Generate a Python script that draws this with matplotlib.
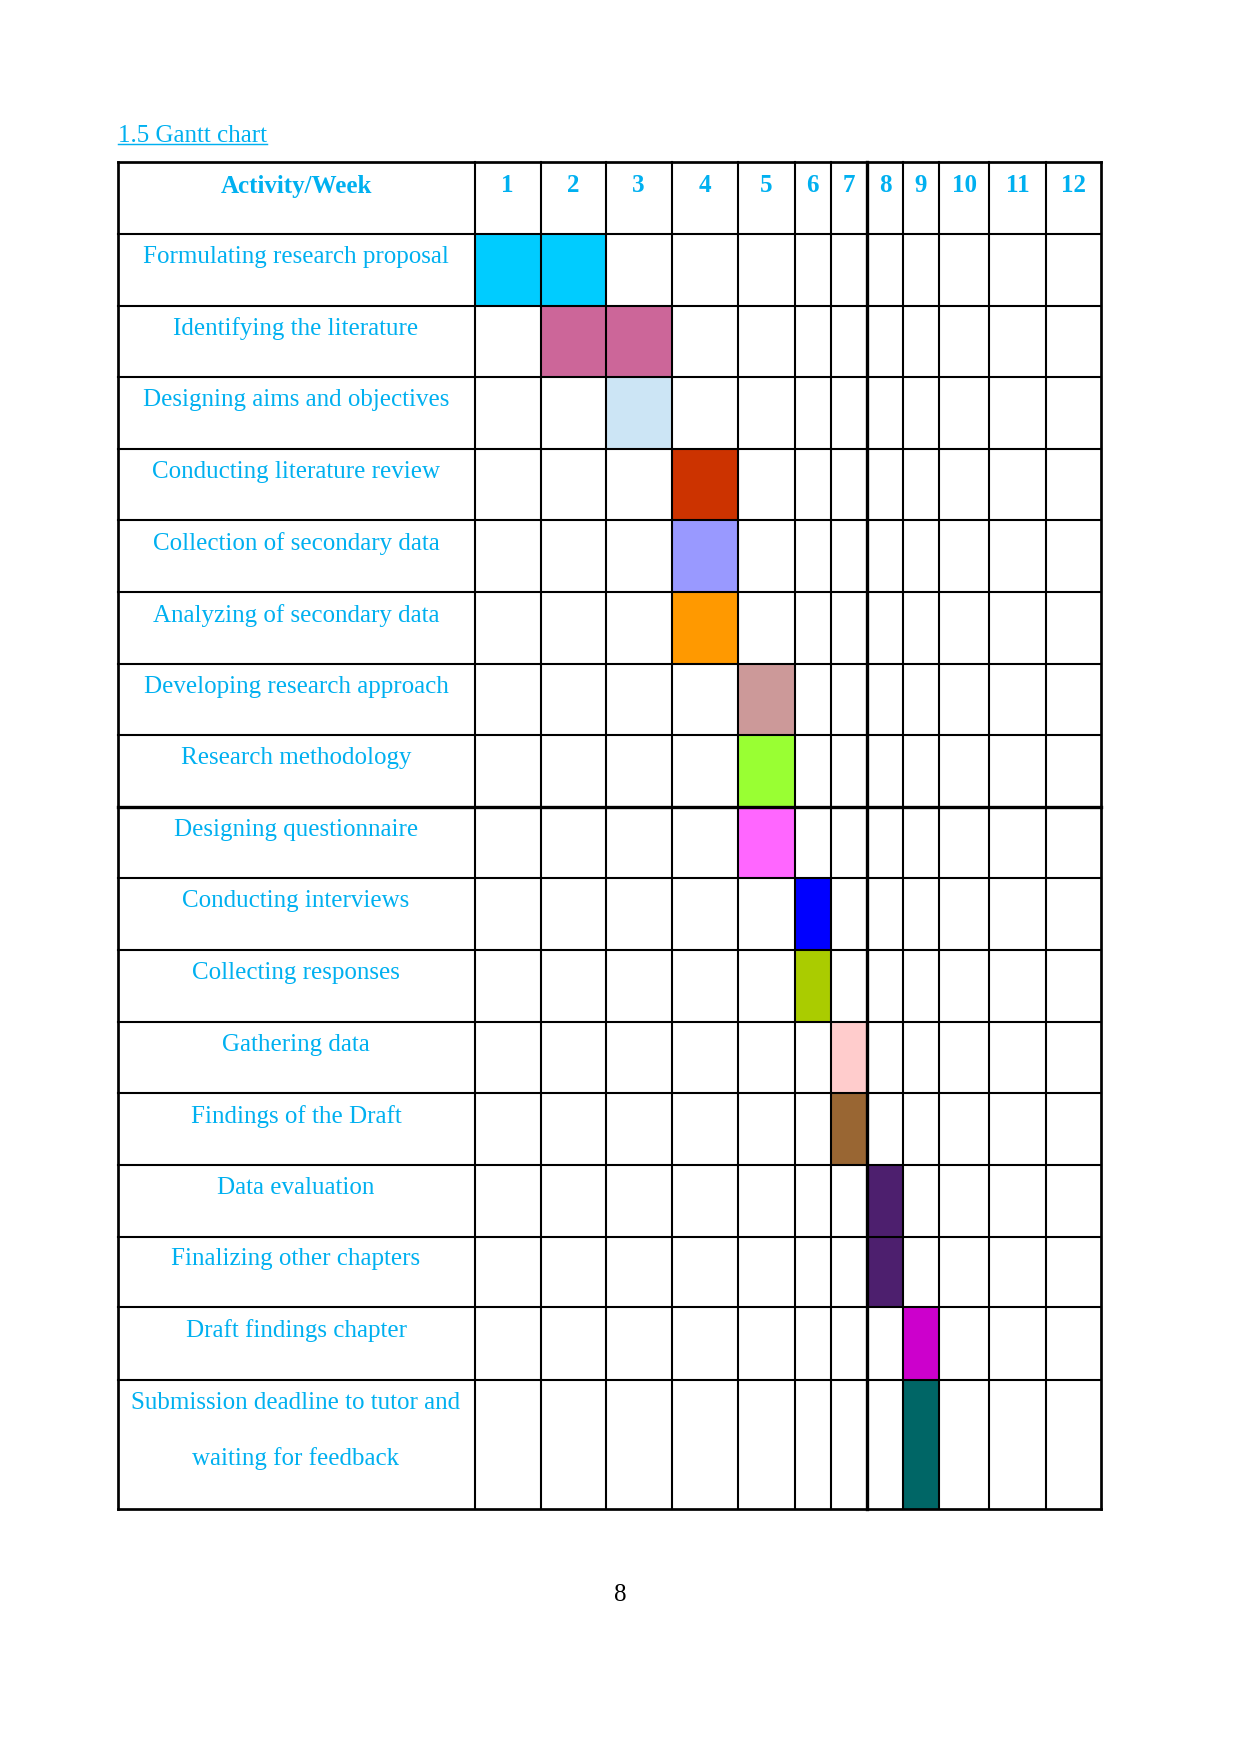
import matplotlib.pyplot as plt

# Gantt chart data
activities = [
    'Formulating research proposal',
    'Identifying the literature',
    'Designing aims and objectives',
    'Conducting literature review',
    'Collection of secondary data',
    'Analyzing of secondary data',
    'Developing research approach',
    'Research methodology',
    'Designing questionnaire',
    'Conducting interviews',
    'Collecting responses',
    'Gathering data',
    'Findings of the Draft',
    'Data evaluation',
    'Finalizing other chapters',
    'Draft findings chapter',
    'Submission deadline to tutor and\nwaiting for feedback',
]
start_week = [1, 2, 3, 4, 4, 4, 5, 5, 5, 6, 6, 7, 7, 8, 8, 9, 9]
end_week = [2, 3, 3, 4, 4, 4, 5, 5, 5, 6, 6, 7, 7, 8, 8, 9, 9]
bar_colors = ['#00CCFF', '#CC6699', '#CCE5F5', '#CC3300', '#9999FF', '#FF9900',
              '#CC9999', '#99FF33', '#FF66FF', '#0000FF', '#AACC00', '#FFCCCC',
              '#996633', '#4D1F6E', '#4D1F6E', '#CC00CC', '#006666']
weeks = [str(w) for w in range(1, 13)]

# table layout (page pixels)
col_edges = [117.5, 474.5, 540.5, 605.5, 671.5, 737.5, 794.5, 830.5, 867,
             903, 939, 989, 1046, 1101]
row_edges = [162, 234, 305.5, 377, 449, 520, 592, 664, 735, 807, 878, 950,
             1022, 1093, 1165, 1236.5, 1307, 1380, 1508.5]

text_color = '#00B0F0'
serif = 'Liberation Serif'

fig = plt.figure(figsize=(1241 / 150, 1754 / 150), dpi=150)
ax = fig.add_axes([0, 0, 1, 1])
ax.set_xlim(0, 1241)
ax.set_ylim(1754, 0)
ax.axis('off')

# bars
for i, (s, e, c) in enumerate(zip(start_week, end_week, bar_colors)):
    top, bottom = row_edges[i + 1], row_edges[i + 2]
    left, right = col_edges[s], col_edges[e + 1]
    ax.barh((top + bottom) / 2, right - left, height=bottom - top, left=left,
            color=c, edgecolor='none', zorder=1)

# grid lines
for j, x in enumerate(col_edges):
    lw = 1.0
    if j in (0, len(col_edges) - 1):
        lw = 1.3
    elif j == 8:
        lw = 1.6
    ax.plot([x, x], [row_edges[0], row_edges[-1]], color='black', lw=lw,
            solid_capstyle='projecting', zorder=2)
for i, y in enumerate(row_edges):
    lw = 1.0
    if i in (0, len(row_edges) - 1):
        lw = 1.3
    elif i == 9:
        lw = 1.6
    ax.plot([col_edges[0], col_edges[-1]], [y, y], color='black', lw=lw,
            solid_capstyle='projecting', zorder=2)

# header
hy = row_edges[0] + 24
ax.text((col_edges[0] + col_edges[1]) / 2, hy, 'Activity/Week', ha='center',
        va='center', color=text_color, fontfamily=serif, fontweight='bold',
        fontsize=12)
for k, w in enumerate(weeks):
    ax.text((col_edges[k + 1] + col_edges[k + 2]) / 2, hy, w, ha='center',
            va='center', color=text_color, fontfamily=serif,
            fontweight='bold', fontsize=12)

# activity labels
for i, name in enumerate(activities):
    ax.text((col_edges[0] + col_edges[1]) / 2, row_edges[i + 1] + 12, name,
            ha='center', va='top', color=text_color, fontfamily=serif,
            fontsize=12, linespacing=2.85)

# title with underline
title = ax.text(118, 136, '1.5 Gantt chart', ha='left', va='center',
                color=text_color, fontfamily=serif, fontsize=12)
fig.canvas.draw()
bb = title.get_window_extent().transformed(ax.transData.inverted())
ax.plot([bb.x0, bb.x1], [bb.y0 - 3, bb.y0 - 3], color=text_color, lw=0.7)

# page number
ax.text(620, 1595, '8', ha='center', va='center', color='black',
        fontfamily=serif, fontsize=12)

plt.savefig('out.png', dpi=150)
plt.close()
